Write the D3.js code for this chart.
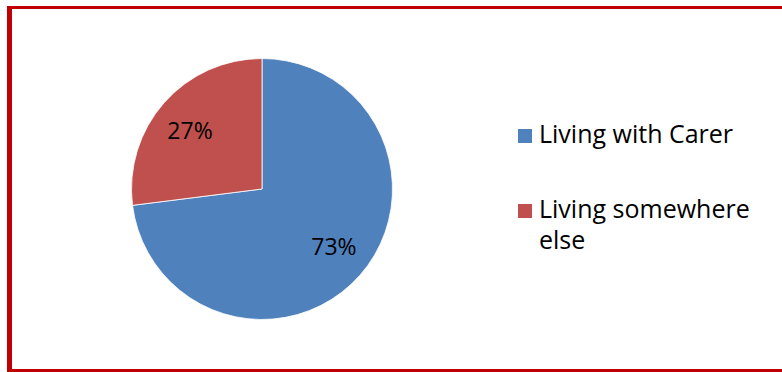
<!DOCTYPE html>
<html><head><meta charset="utf-8">
<script src="https://cdn.jsdelivr.net/npm/d3@7"></script>
<style>html,body{margin:0;padding:0;background:#fff;overflow:hidden}</style>
</head><body>
<svg id="c" width="782" height="372"></svg>
<script>
const categories = ["Living with Carer", "Living somewhere else"];
const values = [73, 27];
const labels = ["73%", "27%"];
const colors = ["#4F81BD", "#C0504D"];

const svg = d3.select("#c");
const font = "'Open Sans', sans-serif";

// frame
svg.append("rect").attr("x",0).attr("y",0).attr("width",782).attr("height",372).attr("fill","#fff");
svg.append("rect").attr("x",7).attr("y",6).attr("width",775).attr("height",3).attr("fill","#C00000");
svg.append("rect").attr("x",7).attr("y",369).attr("width",775).attr("height",3).attr("fill","#C00000");
svg.append("rect").attr("x",7).attr("y",6).attr("width",5).attr("height",366).attr("fill","#C00000");

const cx = 262, cy = 189, R = 130.5;
const pie = d3.pie().sort(null).value(d => d);
const arcs = pie(values);
const arc = d3.arc().innerRadius(0).outerRadius(R);

const g = svg.append("g").attr("transform", `translate(${cx},${cy})`);
g.selectAll("path").data(arcs).join("path")
  .attr("d", arc).attr("fill", (d,i) => colors[i])
  .attr("stroke", "#fff").attr("stroke-width", 0.8);

const lr = 92.5, shift = 2.5 * Math.PI / 180;
g.selectAll("text").data(arcs).join("text")
  .attr("x", d => lr * Math.sin((d.startAngle + d.endAngle) / 2 - shift))
  .attr("y", d => -lr * Math.cos((d.startAngle + d.endAngle) / 2 - shift))
  .attr("dy", "0.36em")
  .attr("text-anchor", "middle")
  .attr("font-family", font).attr("font-size", 23).attr("fill", "#000")
  .text((d,i) => labels[i]);

// legend
const leg = svg.append("g");
const legY = [129, 204];
const legLines = [["Living with Carer"], ["Living somewhere", "else"]];
categories.forEach((c, i) => {
  leg.append("rect").attr("x", 518).attr("y", legY[i]).attr("width", 14).attr("height", 14).attr("fill", colors[i]);
  const t = leg.append("text").attr("x", 539).attr("y", legY[i] + 14)
    .attr("font-family", font).attr("font-size", 25).attr("fill", "#000");
  legLines[i].forEach((ln, j) => {
    t.append("tspan").attr("x", 539).attr("dy", j === 0 ? 0 : 31).text(ln);
  });
});
</script>
</body></html>
